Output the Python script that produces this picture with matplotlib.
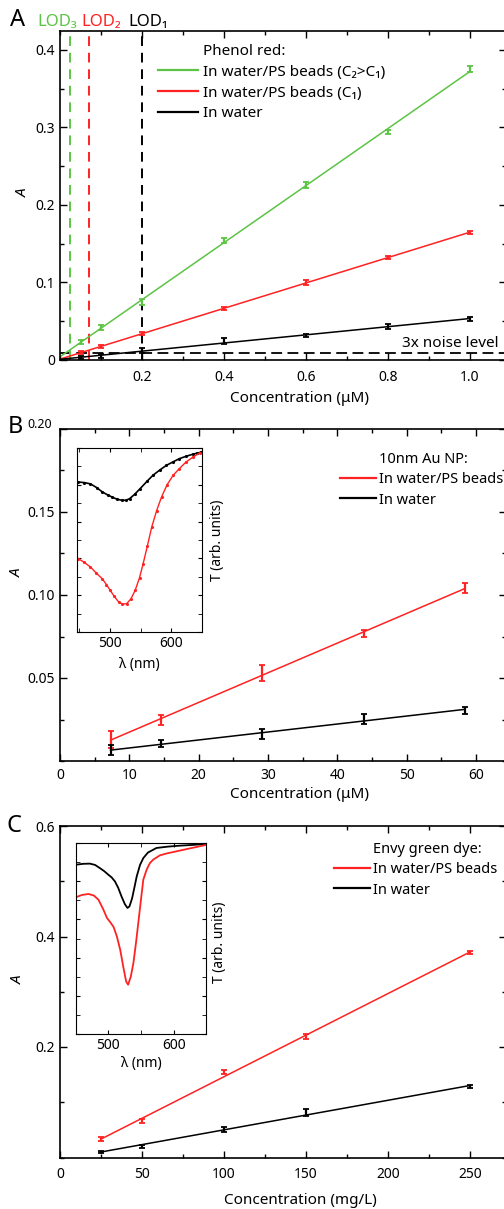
import numpy as np
import matplotlib
matplotlib.use("Agg")
import matplotlib.pyplot as plt
from matplotlib.lines import Line2D
from matplotlib.ticker import MultipleLocator, NullFormatter

plt.rcParams['font.family'] = ['Noto Sans', 'DejaVu Sans']
plt.rcParams['font.size'] = 10

# ---------------- data ----------------
# Panel A: phenol red
concA = [0.05, 0.1, 0.2, 0.4, 0.6, 0.8, 1.0]
greenA = [0.023, 0.042, 0.075, 0.154, 0.226, 0.294, 0.375]
greenA_err = [0.003, 0.003, 0.004, 0.003, 0.004, 0.003, 0.004]
redA = [0.010, 0.017, 0.034, 0.066, 0.100, 0.132, 0.165]
redA_err = [0.002, 0.002, 0.002, 0.002, 0.003, 0.002, 0.002]
blackA = [0.003, 0.005, 0.012, 0.024, 0.032, 0.043, 0.053]
blackA_err = [0.002, 0.003, 0.003, 0.004, 0.002, 0.003, 0.003]
noise3x = 0.0087
lod_values = [0.024, 0.071, 0.2]
lod_labels = ['LOD₃', 'LOD₂', 'LOD₁']

# Panel B: 10 nm Au NP
concB = [7.3, 14.6, 29.2, 43.8, 58.4]
redB = [0.013, 0.0245, 0.053, 0.077, 0.104]
redB_err = [0.005, 0.003, 0.005, 0.002, 0.003]
blackB = [0.0064, 0.0105, 0.016, 0.0255, 0.0305]
blackB_err = [0.003, 0.002, 0.003, 0.003, 0.002]

# Panel B inset spectra (normalised transmission)
lamB_black = [448, 458, 468, 478, 487, 496, 503, 511, 519, 526, 532, 540, 549, 560, 570, 581, 592, 603, 613, 624, 635, 642, 649]
TB_black = [0.815, 0.812, 0.805, 0.785, 0.762, 0.745, 0.734, 0.722, 0.716, 0.716, 0.725, 0.748, 0.779, 0.818, 0.852, 0.880, 0.906, 0.925, 0.942, 0.955, 0.966, 0.972, 0.978]
lamB_red = [448, 458, 468, 477, 487, 494, 500, 507, 514, 520, 527, 534, 541, 548, 554, 561, 568, 576, 584, 593, 603, 613, 624, 635, 646]
TB_red = [0.399, 0.378, 0.353, 0.322, 0.290, 0.258, 0.227, 0.193, 0.163, 0.152, 0.154, 0.180, 0.227, 0.295, 0.372, 0.470, 0.571, 0.660, 0.734, 0.800, 0.852, 0.888, 0.924, 0.950, 0.973]

# Panel C: Envy green dye
concC = [25, 50, 100, 150, 250]
redC = [0.033, 0.066, 0.155, 0.219, 0.371]
redC_err = [0.004, 0.004, 0.004, 0.004, 0.003]
blackC = [0.010, 0.0205, 0.051, 0.081, 0.128]
blackC_err = [0.002, 0.003, 0.005, 0.006, 0.003]

# Panel C inset spectra
lamC_black = [450, 462, 472, 480, 487, 494, 500, 505, 510, 515, 520, 525, 529, 532, 536, 540, 543, 548, 553, 560, 573, 590, 608, 628, 648]
TC_black = [0.886, 0.891, 0.892, 0.885, 0.869, 0.852, 0.834, 0.820, 0.799, 0.765, 0.720, 0.680, 0.660, 0.668, 0.710, 0.775, 0.825, 0.885, 0.921, 0.950, 0.974, 0.981, 0.986, 0.990, 0.995]
lamC_red = [450, 460, 470, 478, 485, 492, 498, 503, 508, 513, 518, 523, 527, 530, 534, 538, 542, 546, 550, 553, 558, 563, 568, 578, 588, 608, 628, 648]
TC_red = [0.715, 0.728, 0.733, 0.725, 0.703, 0.655, 0.607, 0.585, 0.560, 0.510, 0.441, 0.345, 0.275, 0.258, 0.300, 0.372, 0.480, 0.600, 0.720, 0.808, 0.860, 0.895, 0.913, 0.935, 0.945, 0.960, 0.975, 0.990]

GREEN = '#5cc444'
RED = '#ff2222'

# ---------------- layout helpers ----------------
W, H = 504, 1209
fig = plt.figure(figsize=(W / 100, H / 100), dpi=100)


def px_axes(left, top, right, bottom):
    return fig.add_axes([left / W, 1 - bottom / H, (right - left) / W, (bottom - top) / H])


def style(ax):
    ax.tick_params(which='both', direction='in', top=True, right=True, labelsize=10, width=1)
    ax.tick_params(which='major', length=5)
    ax.tick_params(which='minor', length=3)
    for s in ax.spines.values():
        s.set_linewidth(1.2)


def fitline(ax, x, y, color, x0=None):
    p = np.polyfit(x, y, 1)
    xs = np.array([x[0] if x0 is None else x0, x[-1]])
    ax.plot(xs, np.polyval(p, xs), color=color, lw=1.1, zorder=2)


def errpts(ax, x, y, e, color):
    ax.errorbar(x, y, yerr=e, fmt='none', ecolor=color, elinewidth=1.6, capsize=2.2, capthick=1.3, zorder=3)


# ---------------- Panel A ----------------
axA = px_axes(60, 31, 506, 360)
style(axA)
axA.set_xlim(0, (506 - 60) / 410)
axA.set_ylim(0, 0.4245)
fitline(axA, concA, greenA, GREEN, x0=0)
fitline(axA, concA, redA, RED, x0=0)
fitline(axA, concA, blackA, 'black', x0=0)
errpts(axA, concA, greenA, greenA_err, GREEN)
errpts(axA, concA, redA, redA_err, RED)
errpts(axA, concA, blackA, blackA_err, 'black')
axA.axhline(noise3x, color='black', ls=(0, (6, 3)), lw=1.3, zorder=1)
for v, c in zip(lod_values, [GREEN, RED, 'black']):
    axA.axvline(v, color=c, ls=(0, (5, 3.5)), lw=1.4, zorder=1)
fig.text(37 / W, 1 - 22 / H, lod_labels[0], color=GREEN, fontsize=12, va='center', ha='left')
fig.text(81 / W, 1 - 22 / H, lod_labels[1], color=RED, fontsize=12, va='center', ha='left')
fig.text(128 / W, 1 - 22 / H, lod_labels[2], color='black', fontsize=12, va='center', ha='left')
axA.text((499 - 60) / 410, noise3x + 0.003, '3x noise level', ha='right', va='bottom', fontsize=11)
axA.set_xticks([0.2, 0.4, 0.6, 0.8, 1.0])
axA.set_xticklabels(['0.2', '0.4', '0.6', '0.8', '1.0'])
axA.xaxis.set_minor_locator(MultipleLocator(0.1))
axA.set_yticks([0, 0.1, 0.2, 0.3, 0.4])
axA.set_yticklabels(['0', '0.1', '0.2', '0.3', '0.4'])
axA.yaxis.set_minor_locator(MultipleLocator(0.05))
axA.tick_params(axis='x', pad=7)
fig.text(300 / W, 1 - 398 / H, 'Concentration (μM)', ha='center', va='center', fontsize=11)
fig.text(23 / W, 1 - 193 / H, 'A', style='italic', rotation=90, ha='center', va='center', fontsize=11)
fig.text(10 / W, 1 - 20 / H, 'A', fontsize=17, ha='left', va='center')
hA = [Line2D([], [], color='none'),
      Line2D([], [], color=GREEN, lw=1.6),
      Line2D([], [], color=RED, lw=1.6),
      Line2D([], [], color='black', lw=1.6)]
axA.legend(hA, ['Phenol red:', 'In water/PS beads (C₂>C₁)', 'In water/PS beads (C₁)', 'In water'],
           loc='upper left', bbox_to_anchor=(158 / W, 1 - 44 / H), bbox_transform=fig.transFigure,
           frameon=False, borderpad=0, borderaxespad=0, handlelength=2.6, handletextpad=0.35,
           labelspacing=0.38, fontsize=11)

# ---------------- Panel B ----------------
axB = px_axes(60, 429, 506, 761)
style(axB)
axB.set_xlim(0, (506 - 60) / 6.93)
axB.set_ylim(0, 0.2)
fitline(axB, concB, redB, RED)
fitline(axB, concB, blackB, 'black')
errpts(axB, concB, redB, redB_err, RED)
errpts(axB, concB, blackB, blackB_err, 'black')
axB.set_xticks([0, 10, 20, 30, 40, 50, 60])
axB.xaxis.set_minor_locator(MultipleLocator(5))
axB.set_yticks([0.05, 0.10, 0.15, 0.20])
axB.set_yticklabels(['0.05', '0.10', '0.15', ''])
axB.yaxis.set_minor_locator(MultipleLocator(0.025))
axB.tick_params(axis='x', pad=5)
fig.text(40 / W, 1 - 425 / H, '0.20', fontsize=9, ha='center', va='center')
fig.text(300 / W, 1 - 795 / H, 'Concentration (μM)', ha='center', va='center', fontsize=11)
fig.text(17 / W, 1 - 573 / H, 'A', style='italic', rotation=90, ha='center', va='center', fontsize=11)
fig.text(8 / W, 1 - 427 / H, 'B', fontsize=17, ha='left', va='center')
hB = [Line2D([], [], color='none'), Line2D([], [], color=RED, lw=1.6), Line2D([], [], color='black', lw=1.6)]
axB.legend(hB, ['10nm Au NP:', 'In water/PS beads', 'In water'],
           loc='upper left', bbox_to_anchor=(340 / W, 1 - 452 / H), bbox_transform=fig.transFigure,
           frameon=False, borderpad=0, borderaxespad=0, handlelength=2.5, handletextpad=0.2,
           labelspacing=0.36, fontsize=10.5)

insB = px_axes(77, 448, 202, 632)
insB.tick_params(which='both', direction='in', top=True, right=True, labelsize=10, length=3)
insB.plot(lamB_black, TB_black, color='black', lw=1.2, marker='.', ms=2.5)
insB.plot(lamB_red, TB_red, color=RED, lw=1.0, marker='.', ms=2.5)
insB.set_xlim(446, 650)
insB.set_ylim(0.0, 1.0)
insB.set_xticks([500, 600])
insB.xaxis.set_minor_locator(MultipleLocator(50))
insB.yaxis.set_major_locator(MultipleLocator(0.2))
insB.yaxis.set_minor_locator(MultipleLocator(0.1))
insB.yaxis.set_major_formatter(NullFormatter())
insB.tick_params(axis='x', pad=3)
insB.set_xlabel('λ (nm)', fontsize=10, labelpad=4)
fig.text(217 / W, 1 - 540 / H, 'T (arb. units)', rotation=90, ha='center', va='center', fontsize=10)

# ---------------- Panel C ----------------
axC = px_axes(60, 826, 506, 1157.5)
style(axC)
axC.set_xlim(0, (506 - 60) / 1.64)
axC.set_ylim(0, 0.6)
fitline(axC, concC, redC, RED)
fitline(axC, concC, blackC, 'black')
errpts(axC, concC, redC, redC_err, RED)
errpts(axC, concC, blackC, blackC_err, 'black')
axC.set_xticks([0, 50, 100, 150, 200, 250])
axC.xaxis.set_minor_locator(MultipleLocator(25))
axC.set_yticks([0.2, 0.4, 0.6])
axC.yaxis.set_minor_locator(MultipleLocator(0.1))
axC.tick_params(axis='x', pad=7)
fig.text(300 / W, 1 - 1200 / H, 'Concentration (mg/L)', ha='center', va='center', fontsize=11)
fig.text(18 / W, 1 - 980 / H, 'A', style='italic', rotation=90, ha='center', va='center', fontsize=11)
fig.text(6 / W, 1 - 826 / H, 'C', fontsize=17, ha='left', va='center')
hC = [Line2D([], [], color='none'), Line2D([], [], color=RED, lw=1.6), Line2D([], [], color='black', lw=1.6)]
axC.legend(hC, ['Envy green dye:', 'In water/PS beads', 'In water'],
           loc='upper left', bbox_to_anchor=(334 / W, 1 - 842 / H), bbox_transform=fig.transFigure,
           frameon=False, borderpad=0, borderaxespad=0, handlelength=2.5, handletextpad=0.2,
           labelspacing=0.36, fontsize=10.5)

insC = px_axes(76, 843, 206, 1034)
insC.tick_params(which='both', direction='in', top=True, right=True, labelsize=10, length=3)
insC.plot(lamC_black, TC_black, color='black', lw=1.3)
insC.plot(lamC_red, TC_red, color=RED, lw=1.3)
insC.set_xlim(451, 648)
insC.set_ylim(0.0, 1.0)
insC.set_xticks([500, 600])
insC.xaxis.set_minor_locator(MultipleLocator(50))
insC.yaxis.set_major_locator(MultipleLocator(0.2))
insC.yaxis.set_minor_locator(MultipleLocator(0.1))
insC.yaxis.set_major_formatter(NullFormatter())
insC.tick_params(axis='x', pad=3)
insC.set_xlabel('λ (nm)', fontsize=10, labelpad=2)
fig.text(220 / W, 1 - 942 / H, 'T (arb. units)', rotation=90, ha='center', va='center', fontsize=10)

fig.savefig('out.png', dpi=100)
